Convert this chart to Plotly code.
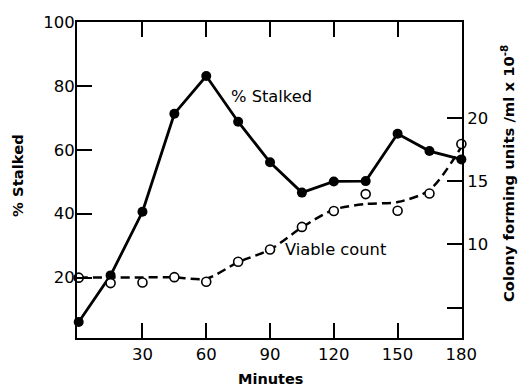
import plotly.graph_objects as go

# Time course sampled every 15 minutes
minutes = [0, 15, 30, 45, 60, 75, 90, 105, 120, 135, 150, 165, 180]

# Percentage of stalked cells (left axis)
pct_stalked = [6.1, 20.7, 40.6, 71.3, 83.1, 68.8, 56.1, 46.6, 50.1, 50.2, 65.0, 59.6, 57.0]

# Viable count, colony forming units / ml x 10^-8 (right axis)
viable_count = [7.38, 6.95, 7.0, 7.42, 7.06, 8.63, 9.6, 11.39, 12.65, 13.98, 12.67, 14.03, 17.94]

# Hand-drawn trend through the viable counts
trend_minutes = [0, 15, 30, 45, 60, 75, 90, 105, 120, 135, 150, 165, 180]
trend_count = [7.4, 7.4, 7.4, 7.4, 7.3, 8.6, 9.6, 11.35, 12.75, 13.2, 13.35, 14.3, 17.7]

x_ticks = [30, 60, 90, 120, 150, 180]
left_ticks = [20, 40, 60, 80, 100]
right_ticks = [10, 15, 20]
right_minor_ticks = [5]

FONT = "DejaVu Sans"
INK = "black"

# Plot-area geometry (pixels)
W, H = 519, 388
ML, MR, MT, MB = 77, 57, 22, 50


def page_x(px):
    return (px - ML) / (W - ML - MR)


def page_y(py):
    return 1 - (py - MT) / (H - MT - MB)


fig = go.Figure()

fig.add_trace(go.Scatter(
    x=trend_minutes, y=trend_count, yaxis="y2", mode="lines",
    line=dict(color=INK, width=2.5, dash="9px,5px", shape="spline", smoothing=0.8),
    hoverinfo="skip", showlegend=False,
))
fig.add_trace(go.Scatter(
    x=minutes, y=viable_count, yaxis="y2", mode="markers",
    marker=dict(symbol="circle", size=9, color="white", line=dict(color=INK, width=1.6)),
    showlegend=False, cliponaxis=False,
))
fig.add_trace(go.Scatter(
    x=minutes, y=pct_stalked, mode="lines+markers",
    line=dict(color=INK, width=2.8),
    marker=dict(symbol="circle", size=10, color=INK),
    showlegend=False, cliponaxis=False,
))

axis_common = dict(
    showgrid=False, zeroline=False, showline=True, linecolor=INK, linewidth=2,
    ticks="inside", ticklen=15, tickwidth=2, tickcolor=INK,
    tickfont=dict(family=FONT, size=16.5, color=INK),
)

fig.update_layout(
    width=W, height=H,
    margin=dict(l=ML, r=MR, t=MT, b=MB),
    paper_bgcolor="white", plot_bgcolor="white",
    font=dict(family=FONT, color=INK),
    xaxis=dict(range=[-0.8, 180.3], tickvals=x_ticks, mirror="ticks", **axis_common),
    yaxis=dict(range=[1.1, 100], tickvals=left_ticks, ticklabelstandoff=-3, **axis_common),
    yaxis2=dict(
        range=[2.61, 27.58], tickvals=right_ticks,
        minor=dict(tickvals=right_minor_ticks, ticks="inside", ticklen=15,
                   tickwidth=2, tickcolor=INK, showgrid=False),
        overlaying="y", side="right", **axis_common,
    ),
    annotations=[
        # axis titles
        dict(text="<b>% Stalked</b>", x=page_x(18), y=page_y(176), xref="paper", yref="paper",
             xanchor="center", yanchor="middle", textangle=-90, showarrow=False,
             font=dict(size=14.8)),
        dict(text="<b>Minutes</b>", x=page_x(270), y=page_y(379), xref="paper", yref="paper",
             xanchor="center", yanchor="middle", showarrow=False, font=dict(size=14.5)),
        dict(text="<b>Colony forming units /ml x 10<sup>-8</sup></b>",
             x=page_x(507), y=page_y(174), xref="paper", yref="paper",
             xanchor="center", yanchor="middle", textangle=-90, showarrow=False,
             font=dict(size=14.8)),
        # series labels, placed in data units
        dict(text="% Stalked", x=70.7, y=76.6, xref="x", yref="y",
             xanchor="left", yanchor="middle", showarrow=False, font=dict(size=16.3)),
        dict(text="Viable count", x=96.2, y=9.6, xref="x", yref="y2",
             xanchor="left", yanchor="middle", showarrow=False, font=dict(size=16.3)),
    ],
)

fig.write_html("out.html")
